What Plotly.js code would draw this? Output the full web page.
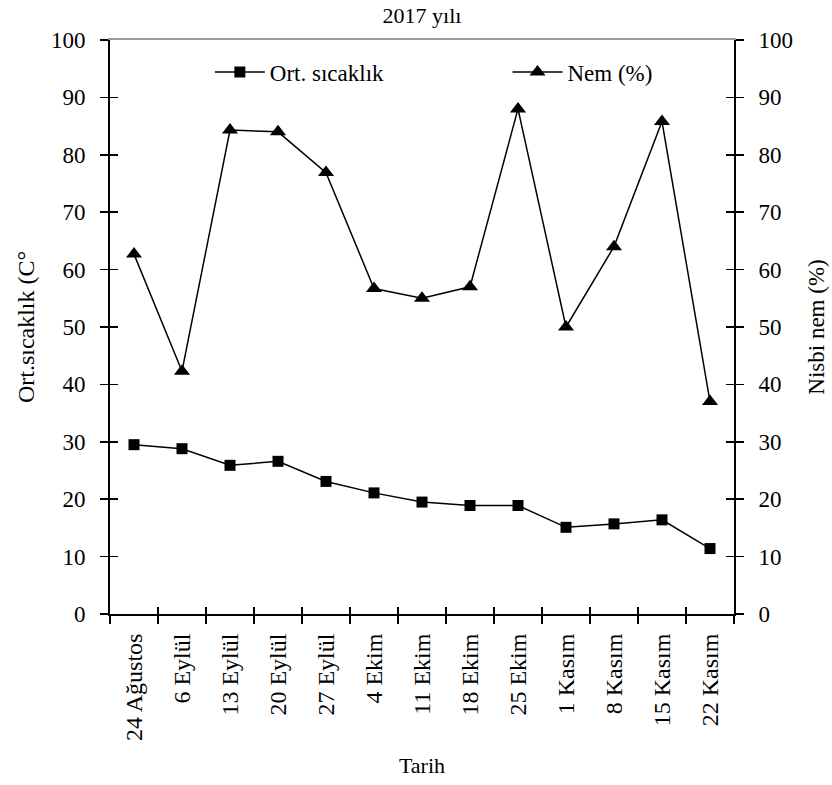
<!DOCTYPE html>
<html>
<head>
<meta charset="utf-8">
<script src="https://cdn.plot.ly/plotly-3.0.1.min.js"></script>
<style>html,body{margin:0;padding:0;background:#fff;}</style>
</head>
<body>
<div id="chart" style="width:832px;height:785px;"></div>
<script>
const categories = ["24 Ağustos","6 Eylül","13 Eylül","20 Eylül","27 Eylül","4 Ekim","11 Ekim","18 Ekim","25 Ekim","1 Kasım","8 Kasım","15 Kasım","22 Kasım"];
const sicaklik = [29.5, 28.8, 25.9, 26.6, 23.1, 21.1, 19.5, 18.9, 18.9, 15.1, 15.7, 16.4, 11.4];
const nem = [62.7, 42.3, 84.3, 84.0, 76.9, 56.7, 55.0, 57.0, 88.0, 50.0, 64.0, 85.8, 37.0];
const yTicks = [0,10,20,30,40,50,60,70,80,90,100];

const fam = 'Liberation Serif, Times New Roman, serif';
const f = (s) => ({family: fam, size: s, color: '#000'});

const traces = [
  {x: categories, y: sicaklik, name: 'Ort. sıcaklık', type: 'scatter', mode: 'lines+markers', legend: 'legend',
   line: {color: '#000', width: 1.5}, marker: {symbol: 'square', size: 11, color: '#000'}, yaxis: 'y'},
  {x: categories, y: nem, name: 'Nem (%)', type: 'scatter', mode: 'lines+markers', legend: 'legend2',
   line: {color: '#000', width: 1.5}, marker: {symbol: 'triangle-up', size: 14, color: '#000'}, yaxis: 'y2'}
];

const layout = {
  width: 832, height: 785,
  margin: {l: 110, r: 98, t: 40, b: 171},
  paper_bgcolor: '#fff', plot_bgcolor: '#fff',
  font: f(22),
  title: {text: '2017 yılı', font: f(22), x: 0.5, xref: 'paper', y: 0.981, yanchor: 'middle'},
  showlegend: true,
  legend: {x: 0.16, xanchor: 'left', y: 0.944, yanchor: 'middle', bgcolor: 'rgba(0,0,0,0)', font: f(23), itemwidth: 50},
  legend2: {x: 0.637, xanchor: 'left', y: 0.944, yanchor: 'middle', bgcolor: 'rgba(0,0,0,0)', font: f(23), itemwidth: 50},
  xaxis: {
    type: 'category', categoryorder: 'array', categoryarray: categories,
    tickangle: -90, tickson: 'boundaries', ticks: 'outside', ticklen: 8, tickwidth: 1.5, tickcolor: '#000',
    showline: true, linecolor: '#000', linewidth: 2, showgrid: false, zeroline: false,
    tickfont: f(24), ticklabelstandoff: 8,
    title: {text: 'Tarih', font: f(22), standoff: 18},
    range: [-0.5, 12.5]
  },
  xaxis2: {overlaying: 'x', matches: 'x', type: 'category', side: 'top', showticklabels: false,
    showline: true, linecolor: '#999', linewidth: 2, ticks: '', showgrid: false, zeroline: false},
  xaxis3: {overlaying: 'x', type: 'category', categoryorder: 'array', categoryarray: categories, range: [-0.5, 12.5],
    tickson: 'boundaries', ticks: 'inside', ticklen: 7, tickwidth: 1.5, tickcolor: '#000', showticklabels: false,
    showline: false, showgrid: false, zeroline: false},
  yaxis: {
    range: [0, 100], tickvals: yTicks, ticks: 'outside', ticklen: 8, tickwidth: 1.5, tickcolor: '#000',
    showline: true, linecolor: '#000', linewidth: 2, showgrid: false, zeroline: false,
    tickfont: f(23), ticklabelstandoff: 10,
    title: {text: 'Ort.sıcaklık (C°', font: f(24), standoff: 10}
  },
  yaxis2: {
    range: [0, 100], tickvals: yTicks, overlaying: 'y', side: 'right', ticks: 'outside', ticklen: 8, tickwidth: 1.5, tickcolor: '#000',
    showline: true, linecolor: '#000', linewidth: 2, showgrid: false, zeroline: false,
    tickfont: f(23), ticklabelstandoff: 10,
    title: {text: 'Nisbi nem (%)', font: f(23), standoff: 16}
  },
  yaxis3: {range: [0, 100], tickvals: yTicks, overlaying: 'y', side: 'left', ticks: 'inside', ticklen: 8, tickwidth: 1.5,
    tickcolor: '#000', showticklabels: false, showline: false, showgrid: false, zeroline: false},
  yaxis4: {range: [0, 100], tickvals: yTicks, overlaying: 'y', side: 'right', ticks: 'inside', ticklen: 8, tickwidth: 1.5,
    tickcolor: '#000', showticklabels: false, showline: false, showgrid: false, zeroline: false}
};

// invisible helper traces so the overlay axes (top border, inner ticks) are drawn
traces.push({x: categories, y: sicaklik, xaxis: 'x2', yaxis: 'y3', type: 'scatter', mode: 'none', showlegend: false, hoverinfo: 'skip'});
traces.push({x: categories, y: nem, xaxis: 'x3', yaxis: 'y4', type: 'scatter', mode: 'none', showlegend: false, hoverinfo: 'skip'});

Plotly.newPlot('chart', traces, layout, {displayModeBar: false, staticPlot: true});
</script>
</body>
</html>
